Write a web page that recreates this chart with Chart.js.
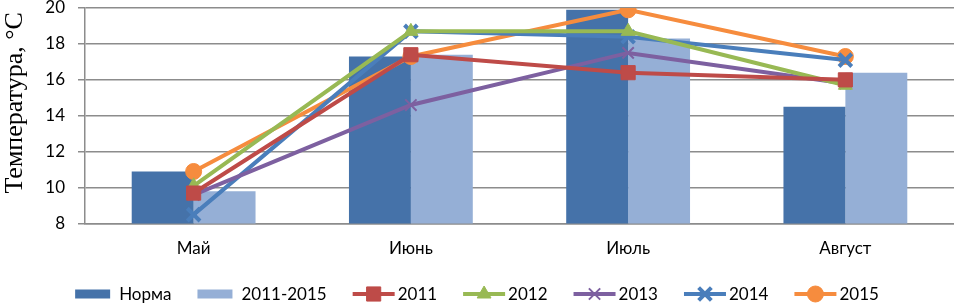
<!DOCTYPE html>
<html>
<head>
<meta charset="utf-8">
<script src="https://cdn.jsdelivr.net/npm/chart.js@4/dist/chart.umd.min.js"></script>
<style>
  body { margin: 0; background: #fff; }
  #wrap { width: 954px; height: 305px; }
</style>
</head>
<body>
<div id="wrap"><canvas id="tempChart" width="954" height="305"></canvas></div>
<script>
const months = ["Май", "Июнь", "Июль", "Август"];
const norm = [10.9, 17.3, 19.9, 14.5];
const avg2011_2015 = [9.8, 17.4, 18.3, 16.4];
const y2011 = [9.7, 17.4, 16.4, 16.0];
const y2012 = [10.1, 18.7, 18.7, 15.7];
const y2013 = [9.6, 14.6, 17.5, 15.8];
const y2014 = [8.5, 18.7, 18.4, 17.1];
const y2015 = [10.9, 17.3, 19.9, 17.3];
const yTicks = [8, 10, 12, 14, 16, 18, 20];

const bodyFont = "Lato, 'Open Sans', sans-serif";

const lineSet = (label, data, color, style, radius, bw) => ({
  type: "line",
  label: label,
  data: data,
  borderColor: color,
  backgroundColor: color,
  borderWidth: 4,
  pointStyle: style,
  pointRadius: radius,
  pointHoverRadius: radius,
  pointBorderWidth: bw,
  pointBorderColor: color,
  pointBackgroundColor: color,
  tension: 0,
  fill: false,
  order: 1,
});

// excel-like legend at the bottom: bar boxes, line samples with markers
const bottomLegend = {
  id: "bottomLegend",
  afterDraw(chart) {
    const ctx = chart.ctx;
    ctx.save();
    ctx.font = "17px " + bodyFont;
    const items = chart.data.datasets.map((ds) => {
      const isLine = ds.type === "line";
      const symW = isLine ? 42 : 35;
      const gap = isLine ? 3 : 9;
      const textW = ctx.measureText(ds.label).width;
      return { ds, isLine, symW, gap, w: symW + gap + textW };
    });
    const itemGap = 26;
    const total = items.reduce((s, it) => s + it.w, 0) + itemGap * (items.length - 1);
    let x = chart.width / 2 - total / 2;
    const cy = chart.height - 11;
    items.forEach((it) => {
      const ds = it.ds;
      if (it.isLine) {
        ctx.strokeStyle = ds.borderColor;
        ctx.lineWidth = 4;
        ctx.beginPath();
        ctx.moveTo(x, cy);
        ctx.lineTo(x + it.symW, cy);
        ctx.stroke();
        ctx.fillStyle = ds.pointBackgroundColor;
        ctx.strokeStyle = ds.pointBorderColor;
        ctx.lineWidth = ds.pointBorderWidth;
        Chart.helpers.drawPoint(ctx, { pointStyle: ds.pointStyle, radius: ds.pointRadius, rotation: 0, borderWidth: ds.pointBorderWidth }, x + it.symW / 2, cy);
      } else {
        ctx.fillStyle = ds.backgroundColor;
        ctx.fillRect(x, cy - 4.5, it.symW, 9);
      }
      ctx.fillStyle = "#000";
      ctx.textBaseline = "middle";
      ctx.textAlign = "left";
      ctx.fillText(ds.label, x + it.symW + it.gap, cy + 1);
      x += it.w + itemGap;
    });
    ctx.restore();
  },
};

const ctx = document.getElementById("tempChart").getContext("2d");
new Chart(ctx, {
  data: {
    labels: months,
    datasets: [
      {
        type: "bar",
        label: "Норма",
        data: norm,
        backgroundColor: "#4572A9",
        categoryPercentage: 0.57,
        barPercentage: 1.0,
        order: 2,
      },
      {
        type: "bar",
        label: "2011-2015",
        data: avg2011_2015,
        backgroundColor: "#95AFD6",
        categoryPercentage: 0.57,
        barPercentage: 1.0,
        order: 2,
      },
      lineSet("2011", y2011, "#BE4B48", "rect", 10, 1),
      lineSet("2012", y2012, "#98B954", "triangle", 8, 1),
      lineSet("2013", y2013, "#7D60A0", "crossRot", 8, 2),
      lineSet("2014", y2014, "#4A7EBB", "crossRot", 9, 4),
      lineSet("2015", y2015, "#F68C3E", "circle", 8, 1),
    ],
  },
  options: {
    responsive: false,
    animation: false,
    layout: { autoPadding: false, padding: { top: 8, right: 0, left: 0, bottom: 31 } },
    plugins: {
      tooltip: { enabled: false },
      legend: { display: false },
    },
    scales: {
      x: {
        grid: { display: false, drawTicks: false },
        border: { display: true, color: "#8c8c8c", width: 1.5 },
        ticks: { color: "#000", font: { family: bodyFont, size: 17 }, padding: 15 },
      },
      y: {
        min: 8,
        max: 20,
        afterBuildTicks(axis) {
          axis.ticks = yTicks.map((v) => ({ value: v }));
        },
        afterFit(axis) {
          axis.width = 85;
          axis.paddingTop = 0;
          axis.paddingBottom = 0;
        },
        grid: { color: "#8c8c8c", lineWidth: 1.5, tickLength: 7, drawTicks: true },
        border: { display: true, color: "#8c8c8c", width: 1.5 },
        ticks: { color: "#000", font: { family: bodyFont, size: 17 }, padding: 13 },
        title: {
          display: true,
          text: "    Температура, °C",
          color: "#000",
          font: { family: "'Liberation Serif', 'Times New Roman', serif", size: 26 },
          padding: { top: 0, bottom: 0 },
        },
      },
    },
  },
  plugins: [bottomLegend],
});
</script>
</body>
</html>
